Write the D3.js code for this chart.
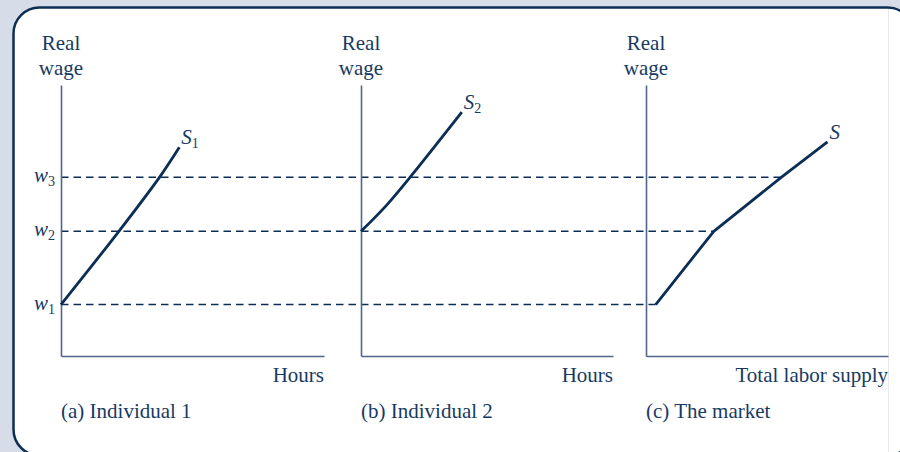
<!DOCTYPE html>
<html>
<head>
<meta charset="utf-8">
<script src="https://cdn.jsdelivr.net/npm/d3@7"></script>
<style>
  html, body { margin: 0; padding: 0; background: #d6dde8; }
  svg { display: block; }
  text { font-family: "Liberation Serif", "DejaVu Serif", serif; fill: #173a62; }
</style>
</head>
<body>
<svg id="chart" width="900" height="452"></svg>
<script>
// wage levels (shared vertical units, 0..10)
const wageNames = ['1', '2', '3'];
const wageLevels = [1.9, 4.6, 6.6];

// individual 1 supply
const s1Hours = [0, 2.2, 3.75, 4.5];
const s1Wage = [1.9, 4.6, 6.6, 7.7];

// individual 2 supply
const s2Hours = [0, 1.0, 1.95, 4.0];
const s2Wage = [4.6, 5.55, 6.6, 9.0];

// market supply
const sHours = [0.4, 2.8, 5.6, 7.5];
const sWage = [1.9, 4.6, 6.6, 7.9];

const panelTitles = ['(a) Individual 1', '(b) Individual 2', '(c) The market'];
const xTitles = ['Hours', 'Hours', 'Total labor supply'];
const curveNames = [['S', '1'], ['S', '2'], ['S', '']];

const w = 900;
const h = 452;
const navy = '#0c2d54';
const axisCol = '#50658a';
const fs = '21px';

const svg = d3.select('#chart');

// card
svg.append('rect')
   .attr('x', 13.5).attr('y', 7.5)
   .attr('width', 900).attr('height', 448)
   .attr('rx', 26).attr('ry', 26)
   .attr('fill', '#ffffff')
   .attr('stroke', navy)
   .attr('stroke-width', 2.5);
svg.append('line')
   .attr('x1', 888.5).attr('x2', 888.5)
   .attr('y1', 9).attr('y2', h)
   .attr('stroke', '#e6e9ee');

const y = d3.scaleLinear().domain([0, 10]).range([356, 85]);

const smooth = d3.curveCatmullRom.alpha(0.5);
const panels = [
  {x: d3.scaleLinear().domain([0, 10]).range([61, 324]), hours: s1Hours, wage: s1Wage, curve: smooth},
  {x: d3.scaleLinear().domain([0, 10]).range([361, 613]), hours: s2Hours, wage: s2Wage, curve: smooth},
  {x: d3.scaleLinear().domain([0, 10]).range([646, 888]), hours: sHours, wage: sWage, curve: d3.curveLinear}
];

// where market supply reaches a wage
function marketHoursAt(wv) {
  for (let i = 1; i < sWage.length; i++) {
    if (wv <= sWage[i]) {
      const t = (wv - sWage[i - 1]) / (sWage[i] - sWage[i - 1]);
      return sHours[i - 1] + t * (sHours[i] - sHours[i - 1]);
    }
  }
  return sHours[sHours.length - 1];
}

// dashed wage lines
const xa = panels[0].x, xc = panels[2].x;
svg.append('g').selectAll('line')
   .data(wageLevels)
   .enter()
   .append('line')
   .attr('x1', xa(0))
   .attr('x2', d => xc(marketHoursAt(d)))
   .attr('y1', d => y(d))
   .attr('y2', d => y(d))
   .attr('stroke', navy)
   .attr('stroke-width', 1.5)
   .attr('stroke-dasharray', '7.5,5');

// wage labels
const wl = svg.append('g').selectAll('text')
   .data(wageLevels)
   .enter()
   .append('text')
   .attr('x', 55)
   .attr('y', d => y(d) + 5)
   .attr('text-anchor', 'end')
   .style('font-size', fs);
wl.append('tspan').style('font-style', 'italic').text('w');
wl.append('tspan').attr('dy', 4).style('font-size', '14px').text((d, i) => wageNames[i]);

panels.forEach((p, i) => {
  const g = svg.append('g');

  g.append('g')
   .attr('transform', `translate(${p.x(0)},0)`)
   .call(d3.axisLeft(y).tickValues([]).tickSizeOuter(0))
   .call(a => a.select('.domain').attr('stroke', axisCol).attr('stroke-width', 1.6));
  g.append('g')
   .attr('transform', `translate(0,${y(0)})`)
   .call(d3.axisBottom(p.x).tickValues([]).tickSizeOuter(0))
   .call(a => a.select('.domain').attr('stroke', axisCol).attr('stroke-width', 1.6));

  g.append('text')
   .attr('x', p.x(0)).attr('y', 50)
   .attr('text-anchor', 'middle')
   .style('font-size', fs)
   .text('Real');
  g.append('text')
   .attr('x', p.x(0)).attr('y', 75)
   .attr('text-anchor', 'middle')
   .style('font-size', fs)
   .text('wage');

  g.append('text')
   .attr('x', p.x.range()[1]).attr('y', 382)
   .attr('text-anchor', 'end')
   .style('font-size', fs)
   .text(xTitles[i]);

  g.append('text')
   .attr('x', p.x(0)).attr('y', 418)
   .style('font-size', fs)
   .text(panelTitles[i]);

  const pts = p.hours.map((hv, k) => [p.x(hv), y(p.wage[k])]);
  g.append('path')
   .datum(pts)
   .attr('d', d3.line().curve(p.curve))
   .attr('fill', 'none')
   .attr('stroke', navy)
   .attr('stroke-width', 2.8)
   .attr('stroke-linejoin', 'round');

  const last = pts[pts.length - 1];
  const lbl = g.append('text')
   .attr('x', last[0] + 2).attr('y', last[1] - 3)
   .style('font-size', fs);
  lbl.append('tspan').style('font-style', 'italic').text(curveNames[i][0]);
  if (curveNames[i][1]) {
    lbl.append('tspan').attr('dy', 4).style('font-size', '14px').text(curveNames[i][1]);
  }
});
</script>
</body>
</html>
